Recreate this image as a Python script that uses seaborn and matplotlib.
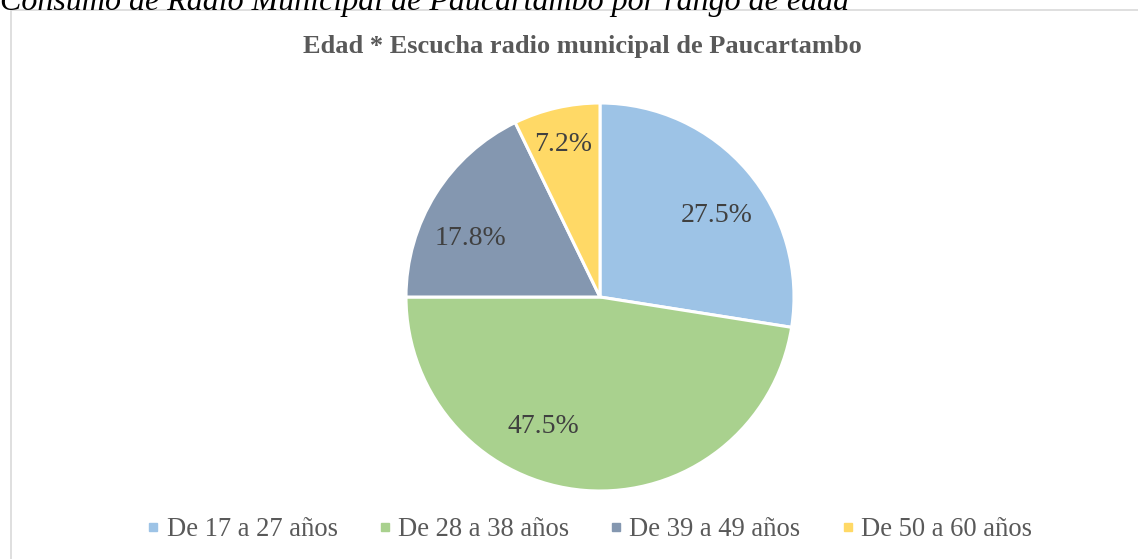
import numpy as np
import matplotlib
matplotlib.use("Agg")
import matplotlib.pyplot as plt
import seaborn as sns
from matplotlib.lines import Line2D
from matplotlib.patches import Rectangle

categories = ["De 17 a 27 años", "De 28 a 38 años", "De 39 a 49 años", "De 50 a 60 años"]
values = [27.5, 47.5, 17.8, 7.2]
colors = ["#9DC3E6", "#A9D18E", "#8497B0", "#FFD966"]

caption = "Consumo de Radio Municipal de Paucartambo por rango de edad"
title = "Edad * Escucha radio municipal de Paucartambo"

sns.set_theme(style="white")
serif = ["Liberation Serif", "DejaVu Serif"]
plt.rcParams["font.family"] = serif

fig = plt.figure(figsize=(11.38, 5.59), dpi=100)

# chart frame
fig.patches.append(Rectangle((11 / 1138, -0.05), 1.2, 1 - 10 / 559 + 0.05,
                             transform=fig.transFigure, fill=False,
                             edgecolor="#D9D9D9", linewidth=1.2))

fig.text(0.0, 1 - 2 / 559, caption, ha="left", va="center", fontsize=23,
         style="italic", color="black", family=serif)
fig.text(582 / 1138, 1 - 47 / 559, title, ha="center", va="center",
         fontsize=19, fontweight="bold", color="#595959", family=serif)

ax = fig.add_axes([(600 - 194) / 1138, (559 - 297 - 194) / 559, 388 / 1138, 388 / 559])
wedges, texts, autotexts = ax.pie(
    values, colors=colors, startangle=90, counterclock=False,
    autopct="%1.1f%%", pctdistance=0.73,
    wedgeprops=dict(edgecolor="white", linewidth=2.2),
    textprops=dict(fontsize=20, color="#404040", family=serif),
)
ax.set_xlim(-1, 1)
ax.set_ylim(-1, 1)

# nudge the labels to where the original put them
autotexts[0].set_position((0.60, 0.42))
autotexts[1].set_position((-0.29, -0.67))
autotexts[2].set_position((-0.67, 0.30))
autotexts[3].set_position((-0.19, 0.785))

handles = [Line2D([], [], marker="s", linestyle="", markersize=5.8,
                  markerfacecolor=c, markeredgecolor=c) for c in colors]
fig.legend(handles, categories, loc="center", ncol=4,
           bbox_to_anchor=(590 / 1138, 1 - 530 / 559), frameon=False,
           prop=dict(family=serif, size=19.2), labelcolor="#595959",
           handlelength=0.4, handletextpad=0.3, columnspacing=1.56)

fig.savefig("out.png", dpi=100)
